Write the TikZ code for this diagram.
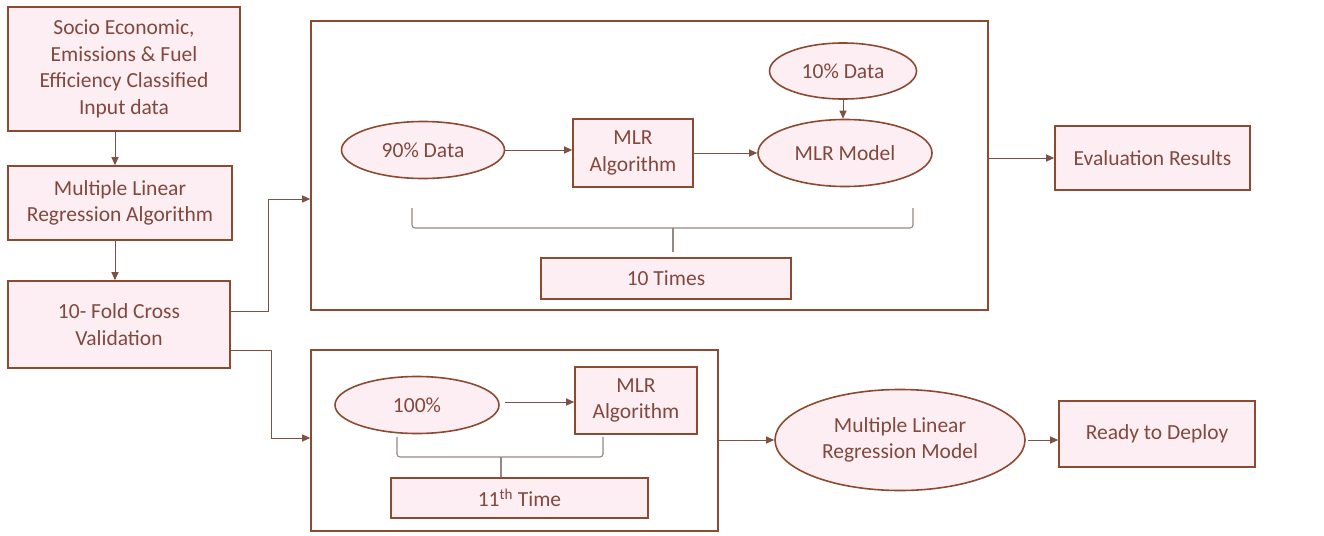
\documentclass[tikz,border=0pt]{standalone}
\usepackage{fontspec}
\setmainfont{Carlito}
\usetikzlibrary{arrows.meta,shapes.geometric,calc}
\definecolor{edge}{RGB}{140,74,48}
\definecolor{boxfill}{RGB}{253,238,244}
\definecolor{ink}{RGB}{130,72,60}
\definecolor{wire}{RGB}{125,82,68}
\definecolor{bracec}{RGB}{150,135,132}
\tikzset{
  base/.style={draw=edge, fill=boxfill, line width=1.6pt, text=ink, align=center,
    inner sep=1pt, font=\fontsize{21.5}{26.5}\selectfont},
  rbox/.style={base, rectangle, minimum width=#1},
  oval/.style={base, ellipse, minimum width=#1},
  frame/.style={draw=edge, line width=1.6pt, fill=white, rectangle, inner sep=0pt},
  wire/.style={draw=wire, line width=1pt, -{Triangle[length=8pt,width=7pt]}},
  bracket/.style={draw=bracec, line width=1.1pt, rounded corners=3pt},
}
\begin{document}
\begin{tikzpicture}[x=1pt,y=-1pt]
\useasboundingbox (0,0) rectangle (1324,535);

% outer frames
\node[frame, minimum width=677, minimum height=289] (outerA) at (649.5,165.5) {};
\node[frame, minimum width=407, minimum height=181] (outerB) at (514.5,440.5) {};

% left column
\node[rbox=232, minimum height=124] (input) at (124,69)
  {Socio Economic,\\Emissions \& Fuel\\Efficiency Classified\\Input data};
\node[rbox=224, minimum height=74] (mlra) at (120,203)
  {Multiple Linear\\Regression Algorithm};
\node[rbox=222, minimum height=87] (cv) at (119,324.5)
  {10- Fold Cross\\Validation};

% cross-validation loop
\node[oval=163, minimum height=57] (d90) at (423,150) {90\% Data};
\node[rbox=120, minimum height=68] (algA) at (633,153) {MLR\\Algorithm};
\node[oval=174, minimum height=67] (model) at (845,153) {MLR Model};
\node[oval=147, minimum height=56] (d10) at (843,71) {10\% Data};
\node[rbox=250, minimum height=41] (tenx) at (666,278.5) {10 Times};
\node[rbox=195, minimum height=64] (eval) at (1152.5,158) {Evaluation Results};

% final training
\node[oval=164, minimum height=57] (d100) at (417,405) {100\%};
\node[rbox=122, minimum height=67] (algB) at (636,400.5) {MLR\\Algorithm};
\node[rbox=257, minimum height=40] (eleven) at (519.5,498) {11\textsuperscript{th} Time};
\node[oval=250, minimum height=101] (final) at (900,440)
  {Multiple Linear\\Regression Model};
\node[rbox=196, minimum height=66] (deploy) at (1157,434) {Ready to Deploy};

% vertical flow on the left
\draw[wire] (input.south -| 115,0) -- (mlra.north -| 115,0);
\draw[wire] (mlra.south -| 115,0) -- (cv.north -| 115,0);

% branches out of the cross-validation box
\draw[wire] ([yshift=13.5pt]cv.east) -- ++(38,0) |- ([yshift=-33.5pt]outerA.west);
\draw[wire] ([yshift=-25.5pt]cv.east) -- ++(41,0) |- ([yshift=2.5pt]outerB.west);

% inside the loop
\draw[wire] (d90.east) -- (d90.east -| algA.west);
\draw[wire] (algA.east) -- (model.west);
\draw[wire] (d10.south) -- (d10.south |- model.north);
\draw[wire] (eval.west -| outerA.east) -- (eval.west);

% inside the final training box
\draw[wire] ([xshift=5pt]d100.east |- 0,402) -- (algB.west |- 0,402);
\draw[wire] (outerB.east |- final.west) -- (final.west);
\draw[wire] ([xshift=2pt]final.east) -- (final.east -| deploy.west);

% brackets
\coordinate (bAl) at (412,208);
\coordinate (bAr) at (913,208);
\coordinate (bAm) at (673,228);
\draw[bracket] (bAl) -- (412,228) -- (913,228) -- (bAr);
\draw[bracket] (bAm) -- (673,252);
\coordinate (bBl) at (397,437);
\coordinate (bBr) at (603,437);
\coordinate (bBm) at (501,457);
\draw[bracket] (bBl) -- (397,457) -- (603,457) -- (bBr);
\draw[bracket] (bBm) -- (eleven.north -| bBm);
\end{tikzpicture}
\end{document}
